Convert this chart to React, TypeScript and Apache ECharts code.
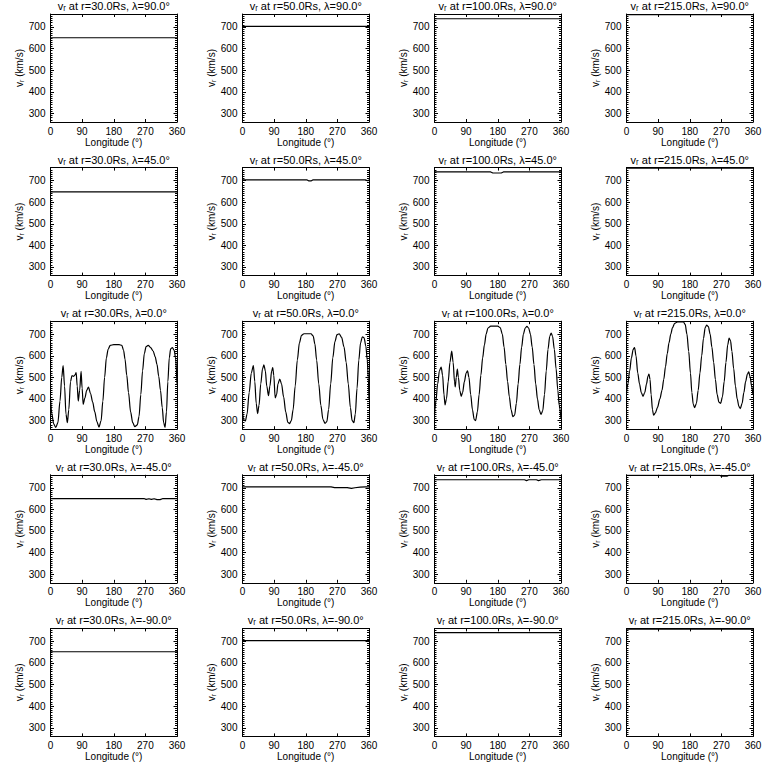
import React, { useEffect, useRef } from "react";
import * as echarts from "echarts";

// ---------- data ----------
const radii = ["30.0", "50.0", "100.0", "215.0"];
const latitudes = ["90.0", "45.0", "0.0", "-45.0", "-90.0"];
const xTickValues = [0, 90, 180, 270, 360];
const yRange = [260, 760];

// latitude 90
const lon_90_r30 = [0, 360];
const v_90_r30 = [650, 650];
const lon_90_r50 = [0, 360];
const v_90_r50 = [703, 703];
const lon_90_r100 = [0, 360];
const v_90_r100 = [738, 738];
const lon_90_r215 = [0, 360];
const v_90_r215 = [757, 757];

// latitude 45
const lon_45_r30 = [0, 360];
const v_45_r30 = [648, 648];
const lon_45_r50 = [0, 184, 188, 196, 200, 350, 354, 358, 360];
const v_45_r50 = [703, 703, 699, 699, 703, 703, 700, 700, 703];
const lon_45_r100 = [0, 160, 166, 190, 196, 360];
const v_45_r100 = [740, 740, 735, 735, 740, 740];
const lon_45_r215 = [0, 360];
const v_45_r215 = [757, 757];

// latitude 0
const lon_0_r30 = [0, 4, 9, 15, 21, 27, 32, 36, 40, 44, 48, 52, 57, 61, 66, 70, 73, 76, 79, 83, 87, 90, 93, 98, 103, 108, 114, 120, 126, 132, 138, 144, 149, 154, 159, 164, 170, 180, 195, 203, 208, 212, 217, 222, 228, 234, 240, 247, 252, 257, 262, 267, 272, 278, 285, 292, 298, 303, 308, 313, 318, 322, 326, 330, 334, 338, 342, 347, 352, 356, 360];
const v_0_r30 = [400, 330, 285, 268, 290, 390, 500, 555, 460, 330, 290, 350, 480, 508, 505, 512, 522, 460, 390, 440, 528, 450, 375, 405, 440, 455, 425, 385, 340, 295, 270, 300, 390, 500, 590, 630, 648, 652, 652, 648, 625, 585, 510, 430, 340, 290, 272, 280, 320, 420, 530, 610, 642, 648, 638, 622, 595, 560, 505, 440, 360, 290, 268, 340, 480, 590, 632, 638, 625, 590, 470];

const lon_0_r50 = [0, 3, 8, 13, 19, 25, 31, 35, 39, 43, 47, 52, 57, 61, 65, 69, 74, 78, 83, 86, 89, 93, 97, 101, 106, 111, 117, 123, 129, 134, 139, 144, 150, 156, 162, 168, 175, 195, 201, 206, 211, 217, 223, 229, 235, 240, 245, 251, 257, 263, 269, 275, 282, 289, 295, 301, 307, 312, 317, 321, 326, 331, 336, 341, 346, 351, 355, 358, 360];
const v_0_r50 = [340, 305, 298, 330, 430, 520, 555, 480, 380, 332, 370, 470, 540, 558, 530, 460, 415, 460, 530, 545, 510, 405, 420, 470, 492, 470, 410, 340, 292, 286, 300, 350, 460, 580, 660, 695, 702, 702, 692, 655, 580, 470, 370, 305, 287, 295, 350, 470, 590, 665, 698, 702, 685, 640, 570, 470, 360, 300, 290, 330, 450, 580, 660, 688, 683, 645, 580, 500, 400];

const lon_0_r100 = [0, 4, 9, 14, 19, 23, 27, 30, 34, 39, 44, 49, 53, 57, 59, 62, 65, 68, 72, 76, 80, 85, 90, 94, 98, 103, 108, 113, 117, 122, 127, 132, 137, 142, 147, 152, 160, 180, 187, 193, 198, 203, 208, 213, 218, 223, 228, 233, 238, 243, 248, 253, 258, 263, 268, 273, 278, 283, 288, 293, 298, 303, 308, 313, 318, 323, 328, 332, 336, 341, 346, 351, 355, 360];
const v_0_r100 = [330, 390, 470, 530, 548, 510, 420, 372, 400, 480, 570, 622, 570, 480, 456, 500, 538, 500, 440, 412, 430, 480, 520, 530, 500, 420, 350, 305, 300, 340, 420, 510, 590, 650, 700, 728, 737, 737, 730, 700, 640, 560, 480, 410, 350, 318, 325, 380, 470, 560, 640, 700, 728, 736, 728, 700, 640, 560, 470, 400, 350, 328, 345, 420, 530, 630, 690, 705, 690, 630, 540, 440, 370, 310];

const lon_0_r215 = [0, 4, 9, 14, 19, 23, 27, 32, 37, 42, 47, 52, 57, 61, 64, 67, 70, 74, 77, 82, 88, 95, 101, 106, 111, 116, 121, 126, 131, 137, 145, 162, 167, 172, 177, 182, 186, 190, 194, 199, 204, 209, 214, 219, 224, 228, 233, 238, 243, 248, 253, 258, 263, 268, 273, 278, 283, 288, 292, 296, 300, 305, 310, 315, 320, 324, 329, 334, 339, 344, 348, 352, 356, 360];
const v_0_r215 = [430, 470, 530, 590, 630, 638, 600, 520, 470, 430, 412, 430, 470, 505, 515, 490, 420, 350, 325, 335, 360, 400, 440, 490, 550, 610, 660, 700, 730, 750, 757, 757, 745, 700, 620, 520, 430, 375, 360, 380, 440, 520, 600, 680, 730, 742, 735, 700, 640, 570, 490, 420, 385, 380, 410, 480, 570, 650, 682, 670, 620, 540, 460, 400, 365, 355, 380, 430, 480, 515, 525, 500, 460, 420];

// latitude -45
const lon_m45_r30 = [0, 266, 272, 280, 287, 295, 303, 312, 320, 360];
const v_m45_r30 = [650, 650, 646, 649, 646, 649, 645, 645, 650, 650];
const lon_m45_r50 = [0, 252, 262, 298, 310, 320, 335, 350, 360];
const v_m45_r50 = [704, 704, 701, 701, 697, 700, 703, 704, 704];
const lon_m45_r100 = [0, 256, 262, 268, 290, 296, 304, 360];
const v_m45_r100 = [737, 737, 733, 737, 737, 733, 737, 737];
const lon_m45_r215 = [0, 266, 270, 286, 290, 360];
const v_m45_r215 = [757, 757, 754, 754, 757, 757];

// latitude -90
const lon_m90_r30 = [0, 360];
const v_m90_r30 = [652, 652];
const lon_m90_r50 = [0, 360];
const v_m90_r50 = [703, 703];
const lon_m90_r100 = [0, 360];
const v_m90_r100 = [740, 740];
const lon_m90_r215 = [0, 360];
const v_m90_r215 = [757, 757];

const panelData: [number[], number[]][] = [
  [lon_90_r30, v_90_r30], [lon_90_r50, v_90_r50], [lon_90_r100, v_90_r100], [lon_90_r215, v_90_r215],
  [lon_45_r30, v_45_r30], [lon_45_r50, v_45_r50], [lon_45_r100, v_45_r100], [lon_45_r215, v_45_r215],
  [lon_0_r30, v_0_r30], [lon_0_r50, v_0_r50], [lon_0_r100, v_0_r100], [lon_0_r215, v_0_r215],
  [lon_m45_r30, v_m45_r30], [lon_m45_r50, v_m45_r50], [lon_m45_r100, v_m45_r100], [lon_m45_r215, v_m45_r215],
  [lon_m90_r30, v_m90_r30], [lon_m90_r50, v_m90_r50], [lon_m90_r100, v_m90_r100], [lon_m90_r215, v_m90_r215],
];

// ---------- layout ----------
const FONT = "'Liberation Sans', 'DejaVu Sans', sans-serif";
const COL_LEFT0 = 50.5;
const COL_STEP = 192;
const ROW_TOP0 = 14;
const ROW_STEP = 153.6;
const PW = 126.5;
const PH = 108;

function buildOption() {
  const grid: any[] = [];
  const xAxis: any[] = [];
  const yAxis: any[] = [];
  const series: any[] = [];
  const graphic: any[] = [];
  const black = "#000";

  latitudes.forEach((lat, r) => {
    radii.forEach((rad, c) => {
      const i = r * 4 + c;
      const left = COL_LEFT0 + COL_STEP * c;
      const top = ROW_TOP0 + ROW_STEP * r;
      grid.push({ left, top, width: PW, height: PH, containLabel: false, show: false });

      const xBase = {
        gridIndex: i, type: "value", min: xTickValues[0], max: xTickValues[xTickValues.length - 1],
        interval: xTickValues[1] - xTickValues[0],
        splitLine: { show: false },
        axisLine: { show: true, onZero: false, lineStyle: { color: black, width: 1 } },
        axisTick: { show: true, inside: true, length: 3, lineStyle: { color: black, width: 1 } },
      };
      xAxis.push({
        ...xBase, position: "bottom",
        axisLabel: { show: true, color: black, fontSize: 10, fontFamily: FONT, margin: 4 },
        name: "Longitude (°)", nameLocation: "middle", nameGap: 15,
        nameTextStyle: { color: black, fontSize: 10, fontFamily: FONT },
      });
      xAxis.push({ ...xBase, position: "top", axisLabel: { show: false } });

      const yMajor = {
        gridIndex: i, type: "value", min: yRange[0], max: yRange[1], splitNumber: 5,
        splitLine: { show: false },
        axisLine: { show: true, onZero: false, lineStyle: { color: black, width: 1 } },
        axisTick: { show: true, inside: true, length: 3.5, lineStyle: { color: black, width: 1 } },
      };
      const yMinor = {
        gridIndex: i, type: "value", min: yRange[0], max: yRange[1], interval: 10,
        splitLine: { show: false },
        axisLine: { show: false, onZero: false },
        axisTick: { show: true, inside: true, length: 2, lineStyle: { color: black, width: 1 } },
        axisLabel: { show: false },
      };
      yAxis.push({
        ...yMajor, position: "left",
        axisLabel: { show: true, showMinLabel: false, showMaxLabel: false, color: black, fontSize: 10, fontFamily: FONT, margin: 5 },
        name: "vᵣ (km/s)", nameLocation: "middle", nameGap: 23, nameRotate: 90,
        nameTextStyle: { color: black, fontSize: 10, fontFamily: FONT },
      });
      yAxis.push({ ...yMinor, position: "left" });
      yAxis.push({ ...yMajor, position: "right", axisLabel: { show: false } });
      yAxis.push({ ...yMinor, position: "right" });

      const [lon, v] = panelData[i];
      series.push({
        type: "line",
        xAxisIndex: i * 2,
        yAxisIndex: i * 4,
        data: lon.map((x, k) => [x, v[k]]),
        showSymbol: false,
        symbol: "none",
        smooth: lat === "0.0" ? 0.3 : false,
        smoothMonotone: "x",
        clip: true,
        lineStyle: { color: black, width: 1.2 },
        silent: true,
      });

      graphic.push({
        type: "text",
        x: left + PW / 2,
        y: top - 13.5,
        silent: true,
        style: {
          text: `vᵣ at r=${rad}Rs, λ=${lat}°`,
          fontSize: 11,
          fontFamily: FONT,
          fill: black,
          align: "center",
          verticalAlign: "top",
        },
      });
    });
  });

  return {
    animation: false,
    backgroundColor: "#fff",
    grid, xAxis, yAxis, series, graphic,
  };
}

export default function App() {
  const ref = useRef<HTMLDivElement>(null);
  useEffect(() => {
    if (!ref.current) return;
    const chart = echarts.init(ref.current, undefined, { renderer: "svg" });
    chart.setOption(buildOption() as any);
    return () => chart.dispose();
  }, []);
  return (
    <div
      ref={ref}
      style={{ position: "fixed", left: 0, top: 0, width: 768, height: 768, background: "#fff" }}
    />
  );
}
